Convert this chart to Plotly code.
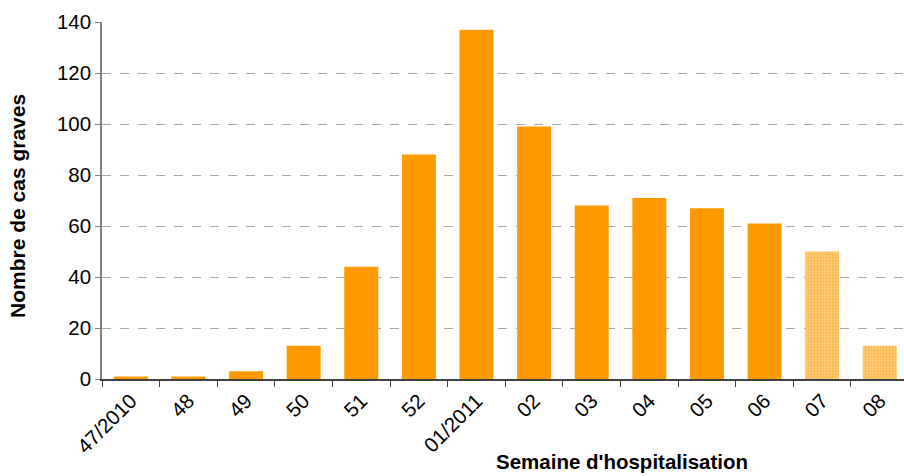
import plotly.graph_objects as go

# Weekly counts of severe cases by week of hospitalisation
weeks = ["47/2010", "48", "49", "50", "51", "52", "01/2011", "02", "03",
         "04", "05", "06", "07", "08"]
cases = [1, 1, 3, 13, 44, 88, 137, 99, 68, 71, 67, 61, 50, 13]
# The last two weeks are still incomplete (consolidation pending)
provisional = [False] * 12 + [True, True]

ORANGE = "#FF9900"
FONT = "Liberation Sans, Arial, sans-serif"

final_x = [w for w, p in zip(weeks, provisional) if not p]
final_y = [c for c, p in zip(cases, provisional) if not p]
prov_x = [w for w, p in zip(weeks, provisional) if p]
prov_y = [c for c, p in zip(cases, provisional) if p]

fig = go.Figure()
fig.add_trace(go.Bar(x=final_x, y=final_y, marker=dict(color=ORANGE, line_width=0),
                     showlegend=False))
fig.add_trace(go.Bar(
    x=prov_x, y=prov_y, showlegend=False,
    marker=dict(color="#FFC266", line_width=0,
                pattern=dict(shape=".", fgcolor=ORANGE, bgcolor="#FFD08A",
                             size=3, solidity=0.5, fillmode="overlay")),
))

fig.update_layout(
    width=904, height=476,
    margin=dict(l=102, r=0, t=22, b=97),
    paper_bgcolor="white", plot_bgcolor="white",
    bargap=0.41, barmode="overlay",
    font=dict(family=FONT, size=20, color="black"),
    xaxis=dict(
        type="category", categoryorder="array", categoryarray=weeks,
        range=[-0.5, 13.42],
        tickangle=-45, tickson="boundaries", ticks="outside", ticklen=6,
        tickcolor="#404040", showline=True, linecolor="#404040", linewidth=1.5,
        showgrid=False, tickfont=dict(size=20.5),
    ),
    yaxis=dict(
        range=[0, 140], dtick=20, ticks="outside", ticklen=5, tickcolor="#808080",
        showline=True, linecolor="#808080", linewidth=1.5,
        showgrid=True, gridcolor="#A6A6A6", griddash="dash", gridwidth=1,
        zeroline=False, tickfont=dict(size=20.5),
    ),
    annotations=[
        dict(text="<b>Semaine d'hospitalisation</b>", xref="paper", yref="paper",
             x=(622 - 102) / 802, y=-(461 - 379) / 357, showarrow=False,
             font=dict(size=20.5), xanchor="center", yanchor="middle"),
        dict(text="<b>Nombre de cas graves</b>", xref="paper", yref="paper",
             x=-(102 - 18) / 802, y=(379 - 206) / 357, showarrow=False,
             textangle=-90, font=dict(size=21), xanchor="center", yanchor="middle"),
    ],
)

fig.write_html("out.html")
